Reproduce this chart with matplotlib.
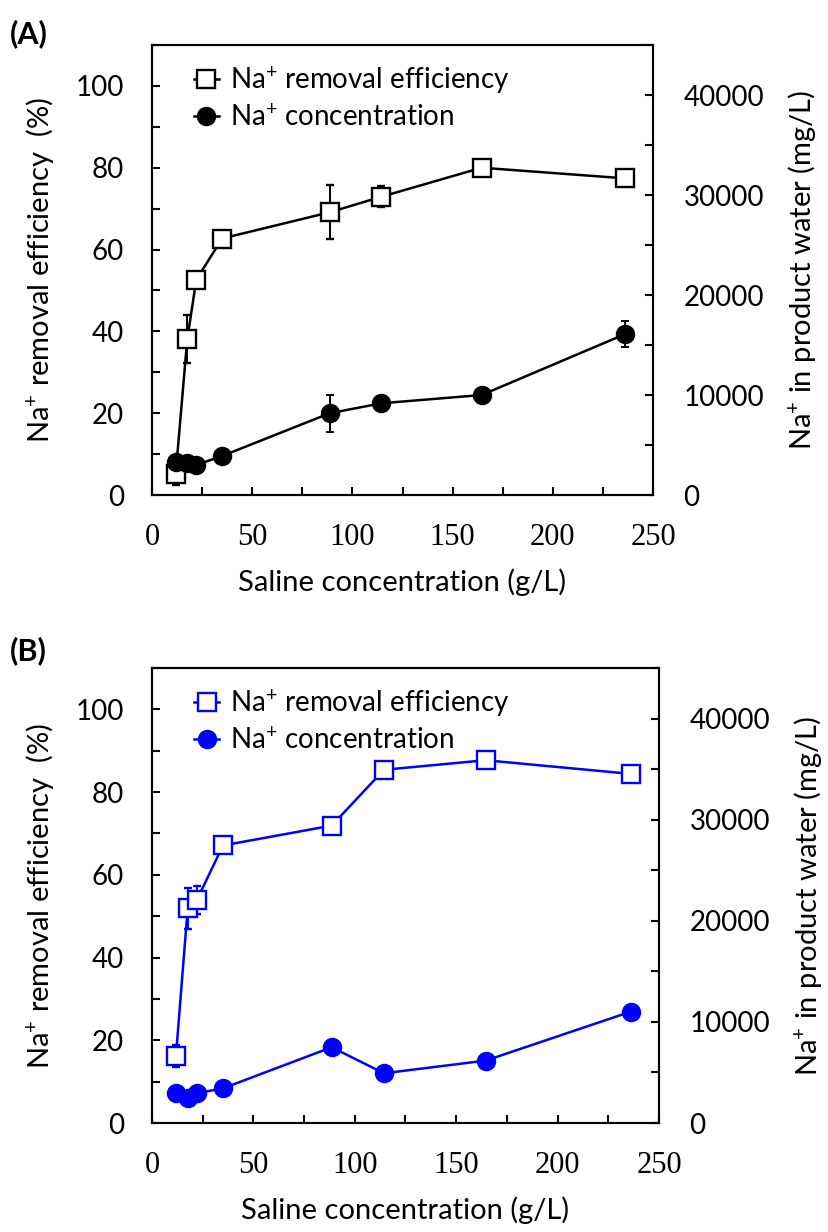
import matplotlib
matplotlib.use('Agg')
import matplotlib.pyplot as plt
from matplotlib.lines import Line2D
from matplotlib.ticker import MultipleLocator

plt.rcParams['font.family'] = ['Lato', 'DejaVu Sans']
plt.rcParams['mathtext.fontset'] = 'custom'
plt.rcParams['mathtext.rm'] = 'Lato'
plt.rcParams['mathtext.it'] = 'Lato'

# saline concentration (g/L)
saline = [11.8, 17.6, 22.1, 35.0, 88.6, 114.4, 164.5, 236.2]

# panel A
eff_a = [5.1, 38.1, 52.6, 62.7, 69.1, 72.9, 80.0, 77.4]
eff_a_err = [2.7, 5.8, 0.8, 1.7, 6.6, 2.6, 0.5, 0.5]
conc_a = [3330, 3170, 3000, 3900, 8170, 9170, 10000, 16100]
conc_a_err = [200, 200, 200, 300, 1830, 600, 300, 1280]

# panel B
eff_b = [16.2, 51.9, 53.9, 67.1, 71.9, 85.4, 87.7, 84.4]
eff_b_err = [2.6, 5.0, 3.4, 0.5, 0.5, 0.5, 0.5, 0.5]
conc_b = [2940, 2440, 2940, 3430, 7490, 4920, 6170, 11020]
conc_b_err = [100, 100, 100, 100, 100, 100, 100, 100]

W, H = 829, 1232
fig = plt.figure(figsize=(W / 100, H / 100), dpi=100)

FS = 21
TFS = 20


def panel(box, tag_y, eff, eff_err, conc, conc_err, color, tag):
    l, t, r, b = box
    ax = fig.add_axes([l / W, 1 - b / H, (r - l) / W, (b - t) / H])
    ax2 = ax.twinx()

    ax.set_xlim(0, 250)
    ax.set_ylim(0, 110)
    ax2.set_ylim(0, 45000)

    ax.errorbar(saline, eff, yerr=eff_err, color=color, marker='s', ms=13,
                mfc='white', mec=color, mew=1.7, lw=1.8, capsize=3,
                elinewidth=1.4, capthick=1.4, zorder=3)
    ax2.errorbar(saline, conc, yerr=conc_err, color=color, marker='o', ms=13,
                 mfc=color, mec=color, lw=1.8, capsize=3,
                 elinewidth=1.4, capthick=1.4, zorder=3)

    ax.xaxis.set_major_locator(MultipleLocator(50))
    ax.xaxis.set_minor_locator(MultipleLocator(25))
    ax.yaxis.set_major_locator(MultipleLocator(20))
    ax.yaxis.set_minor_locator(MultipleLocator(10))
    ax2.yaxis.set_major_locator(MultipleLocator(10000))
    ax2.yaxis.set_minor_locator(MultipleLocator(5000))

    for a in (ax, ax2):
        for s in a.spines.values():
            s.set_linewidth(1.5)
        a.tick_params(which='both', direction='in', length=6, width=1.5)

    ax.tick_params(axis='y', which='both', left=True, right=False, labelsize=TFS, pad=20)
    ax.tick_params(axis='x', which='both', top=False, pad=20)
    ax2.tick_params(axis='y', which='both', right=True, left=False, labelsize=TFS, pad=22)
    for lab in ax.get_xticklabels():
        lab.set_fontfamily('Liberation Serif')
        lab.set_fontsize(22)

    ax.set_xlabel('Saline concentration (g/L)', fontsize=FS, labelpad=12)
    ax.set_ylabel('Na$^{+}$ removal efficiency  (%)', fontsize=FS, labelpad=14)
    ax2.set_ylabel('Na$^{+}$ in product water (mg/L)', fontsize=FS, labelpad=16)

    h1 = Line2D([], [], color=color, marker='s', ms=13, mfc='white', mec=color,
                mew=1.7, lw=1.8)
    h2 = Line2D([], [], color=color, marker='o', ms=13, mfc=color, mec=color, lw=1.8)
    ax2.legend([h1, h2], ['Na$^{+}$ removal efficiency', 'Na$^{+}$ concentration'],
               loc='upper left', bbox_to_anchor=(0.045, 1.0), frameon=False,
               fontsize=20, handlelength=0.9, handletextpad=0.4,
               labelspacing=0.3, numpoints=1, borderaxespad=0.3)

    fig.text(10 / W, 1 - tag_y / H, tag, fontsize=22, fontweight='bold',
             ha='left', va='center')
    return ax


panel((152, 45, 653, 495), 34, eff_a, eff_a_err, conc_a, conc_a_err, 'black', '(A)')
panel((152, 668, 659, 1123), 651, eff_b, eff_b_err, conc_b, conc_b_err, '#0000ff', '(B)')

fig.savefig('out.png', dpi=100)
